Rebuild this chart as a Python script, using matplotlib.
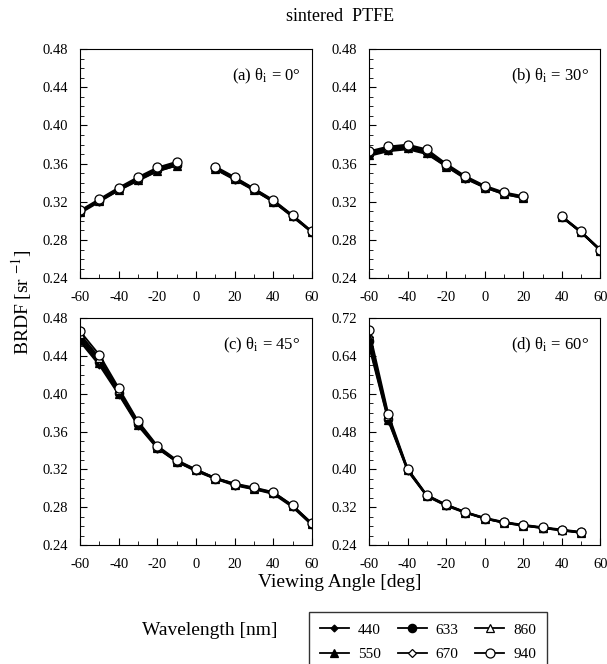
import numpy as np
import matplotlib
matplotlib.use('Agg')
import matplotlib.pyplot as plt
from matplotlib.ticker import MultipleLocator

plt.rcParams['font.family'] = ['Liberation Serif', 'DejaVu Serif']
plt.rcParams['mathtext.fontset'] = 'stix'
plt.rcParams['axes.unicode_minus'] = False

nan = np.nan
wavelengths = ['440', '550', '633', '670', '860', '940']

# (a) theta_i = 0
xa = [-60, -50, -40, -30, -20, -10, 0, 10, 20, 30, 40, 50, 60]
ya = {
    '940': [.311, .323, .335, .346, .356, .362, nan, .357, .346, .334, .322, .306, .289],
    '860': [.310, .322, .334, .345, .355, .361, nan, .356, .345, .334, .321, .306, .289],
    '670': [.310, .322, .333, .344, .354, .360, nan, .355, .345, .333, .321, .305, .288],
    '633': [.309, .321, .333, .344, .353, .359, nan, .355, .344, .333, .320, .305, .288],
    '550': [.309, .321, .332, .343, .352, .358, nan, .354, .344, .332, .320, .305, .288],
    '440': [.308, .320, .332, .342, .352, .358, nan, .354, .343, .332, .320, .304, .288],
}

# (b) theta_i = 30
xb = [-60, -50, -40, -30, -20, -10, 0, 10, 20, 30, 40, 50, 60]
yb = {
    '940': [.373, .378, .380, .375, .360, .347, .337, .330, .326, nan, .305, .289, .270],
    '860': [.372, .377, .379, .374, .359, .346, .336, .329, .325, nan, .305, .289, .270],
    '670': [.371, .376, .378, .373, .359, .346, .336, .329, .325, nan, .305, .288, .270],
    '633': [.370, .375, .377, .372, .358, .345, .335, .329, .325, nan, .304, .288, .269],
    '550': [.369, .374, .376, .371, .357, .345, .335, .328, .324, nan, .304, .288, .269],
    '440': [.368, .373, .375, .370, .357, .344, .335, .328, .324, nan, .304, .288, .269],
}

# (c) theta_i = 45
xc = [-60, -50, -40, -30, -20, -10, 0, 10, 20, 30, 40, 50, 60]
yc = {
    '940': [.466, .441, .406, .371, .345, .330, .320, .311, .305, .301, .296, .282, .263],
    '860': [.463, .438, .404, .370, .344, .329, .320, .311, .305, .300, .296, .282, .263],
    '670': [.461, .436, .403, .369, .344, .329, .319, .311, .304, .300, .295, .281, .262],
    '633': [.459, .434, .401, .368, .343, .328, .319, .310, .304, .300, .295, .281, .262],
    '550': [.457, .432, .400, .367, .343, .328, .319, .310, .304, .299, .295, .281, .262],
    '440': [.455, .430, .399, .366, .342, .328, .318, .310, .303, .299, .294, .280, .261],
}

# (d) theta_i = 60
xd = [-60, -50, -40, -30, -20, -10, 0, 10, 20, 30, 40, 50]
yd = {
    '940': [.695, .517, .402, .346, .326, .310, .298, .289, .283, .278, .273, .268],
    '860': [.685, .512, .401, .345, .325, .310, .297, .288, .282, .277, .272, .267],
    '670': [.680, .510, .400, .345, .325, .309, .297, .288, .282, .277, .272, .267],
    '633': [.672, .507, .399, .344, .324, .309, .296, .288, .282, .277, .272, .267],
    '550': [.665, .504, .398, .344, .324, .309, .296, .287, .281, .276, .271, .266],
    '440': [.660, .502, .397, .343, .323, .308, .296, .287, .281, .276, .271, .266],
}

estilo = {
    '440': dict(marker='D', ms=3.5, mfc='black'),
    '550': dict(marker='^', ms=6, mfc='black'),
    '633': dict(marker='o', ms=6, mfc='black'),
    '670': dict(marker='D', ms=4.5, mfc='white'),
    '860': dict(marker='^', ms=5.5, mfc='white'),
    '940': dict(marker='o', ms=6.5, mfc='white'),
}

paineis = [
    (xa, ya, (0.24, 0.48), 0.04, '(a) θ$_\\mathrm{i}$ = 0°', [0.132, 0.581, 0.382, 0.345]),
    (xb, yb, (0.24, 0.48), 0.04, '(b) θ$_\\mathrm{i}$ = 30°', [0.608, 0.581, 0.381, 0.345]),
    (xc, yc, (0.24, 0.48), 0.04, '(c) θ$_\\mathrm{i}$ = 45°', [0.132, 0.179, 0.382, 0.342]),
    (xd, yd, (0.24, 0.72), 0.08, '(d) θ$_\\mathrm{i}$ = 60°', [0.608, 0.179, 0.381, 0.342]),
]

fig = plt.figure(figsize=(6.07, 6.64), dpi=100)
handles = {}
for x, ys, ylim, passo, rotulo, pos in paineis:
    ax = fig.add_axes(pos)
    for w in wavelengths:
        linha, = ax.plot(x, ys[w], color='black', lw=1.3, mec='black', mew=0.9, **estilo[w])
        handles[w] = linha
    ax.set_xlim(-60, 60)
    ax.set_ylim(*ylim)
    ax.xaxis.set_major_locator(MultipleLocator(20))
    ax.xaxis.set_minor_locator(MultipleLocator(10))
    ax.yaxis.set_major_locator(MultipleLocator(passo))
    ax.yaxis.set_minor_locator(MultipleLocator(passo / 4))
    ax.yaxis.set_major_formatter(plt.FormatStrFormatter('%.2f'))
    ax.tick_params(which='both', direction='in', labelsize=10.5)
    ax.tick_params(axis='x', pad=9)
    ax.tick_params(axis='y', pad=8.5)
    ax.tick_params(which='major', length=5)
    ax.tick_params(which='minor', length=3)
    ax.text(0.95, 0.88, rotulo, transform=ax.transAxes, ha='right', va='center', fontsize=12)

fig.text(0.56, 0.975, 'sintered  PTFE', ha='center', va='center', fontsize=13)
fig.text(0.035, 0.545, 'BRDF [sr $^{-1}$]', ha='center', va='center', rotation=90, fontsize=14)
fig.text(0.56, 0.122, 'Viewing Angle [deg]', ha='center', va='center', fontsize=14)
fig.text(0.346, 0.051, 'Wavelength [nm]', ha='center', va='center', fontsize=14)

fig.legend([handles[w] for w in wavelengths], wavelengths, ncol=3,
           loc='upper left', bbox_to_anchor=(0.509, 0.078), borderaxespad=0, fontsize=11,
           frameon=True, fancybox=False, edgecolor='black', handlelength=1.9,
           columnspacing=1.1, borderpad=0.7, labelspacing=0.7, handletextpad=0.6)

plt.savefig('out.png', dpi=100)
plt.close(fig)
